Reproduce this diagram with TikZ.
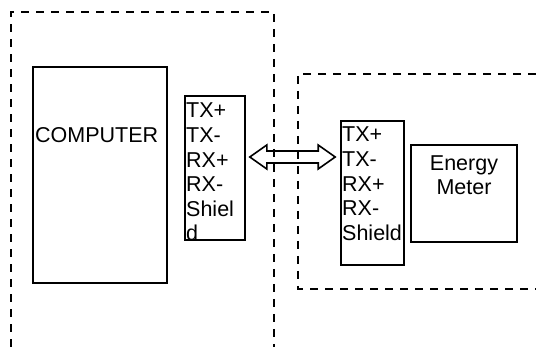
\documentclass[tikz,border=0pt]{standalone}
\usepackage{fontspec}
\setmainfont{Liberation Sans}
\usetikzlibrary{calc}
\begin{document}
\begin{tikzpicture}[x=1pt,y=-1pt,
  box/.style={draw, line width=1.6pt, inner sep=0pt},
  zone/.style={draw, line width=1.6pt, dash pattern=on 8pt off 7pt},
  lbl/.style={inner sep=0pt, anchor=base west, font=\fontsize{21.5}{24.6}\selectfont},
  clbl/.style={inner sep=0pt, anchor=base, font=\fontsize{21.5}{24.6}\selectfont},
  fat/.style={draw, line width=1.6pt, line join=miter}]
\useasboundingbox (0,0) rectangle (536,347);
% dashed zones
\draw[zone] (11,347) -- (11,12) -- (274,12) -- (274,347);
\draw[zone] (536,74) -- (298,74) -- (298,289) -- (536,289);
% boxes
\node[box, minimum width=134pt, minimum height=216pt] (comp) at (100,175) {};
\node[box, minimum width=60pt, minimum height=144pt] (ltx) at (215,168) {};
\node[box, minimum width=63pt, minimum height=144pt] (rtx) at (372.5,193) {};
\node[box, minimum width=106pt, minimum height=97pt] (em) at (464,193.5) {};
% texts
\node[lbl] (comptxt) at (35,143) {COMPUTER};
\foreach \t [count=\i from 0] in {TX+,TX-,RX+,RX-,Shiel,d}
  \node[lbl] (l\i) at (186,118+24.6*\i) {\t};
\foreach \t [count=\i from 0] in {TX+,TX-,RX+,RX-,Shield}
  \node[lbl] (r\i) at (342,142+24.6*\i) {\t};
\node[clbl] (em1) at (464,171) {Energy};
\node[clbl] (em2) at (464,195) {Meter};
% double arrow between the interfaces
\coordinate (aL) at ($(ltx.east)+(4,-11)$);
\coordinate (aR) at ($(rtx.west)+(-5,-36)$);
\draw[fat] (aL) -- ($(aL)+(17,-12)$) -- ($(aL)+(17,-6)$) -- ($(aR)+(-17,-6)$)
  -- ($(aR)+(-17,-12)$) -- (aR) -- ($(aR)+(-17,12)$) -- ($(aR)+(-17,6)$)
  -- ($(aL)+(17,6)$) -- ($(aL)+(17,12)$) -- cycle;
\end{tikzpicture}
\end{document}
